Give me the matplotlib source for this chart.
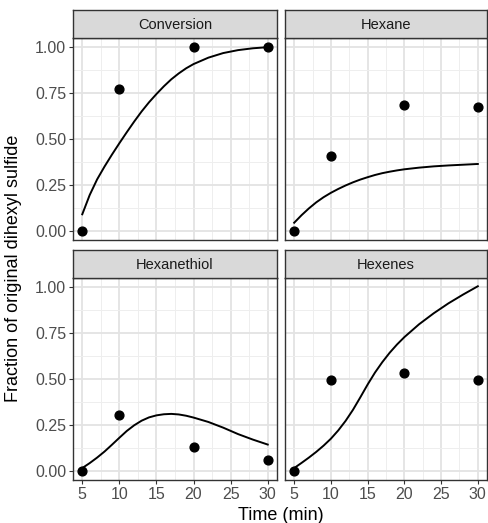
import matplotlib
matplotlib.use("Agg")
import matplotlib.pyplot as plt

plt.rcParams['font.family'] = ['Liberation Sans', 'DejaVu Sans']

# measured points
time_pts = [5, 10, 20, 30]
conversion = [0.0, 0.77, 1.0, 1.0]
hexane = [0.0, 0.41, 0.685, 0.672]
hexanethiol = [0.0, 0.302, 0.128, 0.059]
hexenes = [0.0, 0.496, 0.531, 0.496]

# fitted curves
time_fit = [5, 6, 7, 8, 9, 10, 11, 12, 13, 14, 15, 16, 17, 18, 19, 20, 22, 24, 26, 28, 30]
conversion_fit = [0.09, 0.195, 0.28, 0.35, 0.415, 0.477, 0.537, 0.595, 0.65, 0.70, 0.745,
                  0.787, 0.825, 0.857, 0.885, 0.908, 0.943, 0.968, 0.984, 0.994, 1.0]
hexane_fit = [0.044, 0.085, 0.122, 0.155, 0.183, 0.207, 0.228, 0.247, 0.264, 0.279, 0.292,
              0.304, 0.314, 0.322, 0.329, 0.335, 0.344, 0.351, 0.356, 0.36, 0.364]
hexanethiol_fit = [0.015, 0.042, 0.072, 0.105, 0.142, 0.18, 0.217, 0.248, 0.273, 0.291, 0.302,
                   0.308, 0.31, 0.307, 0.30, 0.29, 0.266, 0.235, 0.20, 0.17, 0.143]
hexenes_fit = [0.015, 0.043, 0.072, 0.103, 0.137, 0.175, 0.22, 0.272, 0.332, 0.40, 0.47,
               0.535, 0.592, 0.643, 0.688, 0.728, 0.798, 0.858, 0.912, 0.96, 1.005]

panels = [
    ("Conversion", conversion, conversion_fit),
    ("Hexane", hexane, hexane_fit),
    ("Hexanethiol", hexanethiol, hexanethiol_fit),
    ("Hexenes", hexenes, hexenes_fit),
]

W, H = 488, 523
fig = plt.figure(figsize=(W / 100, H / 100), dpi=100)

# panel boxes in pixels: left, top, right, bottom
boxes = [(73, 38, 277, 240), (285, 38, 487, 240),
         (73, 278, 277, 480), (285, 278, 487, 480)]
strip_h = 28

xticks = [5, 10, 15, 20, 25, 30]
yticks = [0.0, 0.25, 0.5, 0.75, 1.0]

for i, ((name, pts, fit), (l, t, r, b)) in enumerate(zip(panels, boxes)):
    ax = fig.add_axes([l / W, 1 - b / H, (r - l) / W, (b - t) / H])
    ax.set_xlim(3.75, 31.25)
    ax.set_ylim(-0.05, 1.05)
    ax.set_xticks(xticks)
    ax.set_yticks(yticks)
    ax.set_xticks([7.5, 12.5, 17.5, 22.5, 27.5], minor=True)
    ax.set_yticks([0.125, 0.375, 0.625, 0.875], minor=True)
    ax.grid(which='major', color='#e3e3e3', linewidth=1.3)
    ax.grid(which='minor', color='#eeeeee', linewidth=0.7)
    ax.set_axisbelow(True)
    for s in ax.spines.values():
        s.set_color('#333333')
        s.set_linewidth(1.0)
    ax.tick_params(which='minor', length=0)
    ax.tick_params(which='major', length=3, width=0.8, color='#333333',
                   labelsize=11.5, labelcolor='#4d4d4d', pad=2)
    if i % 2 == 0:
        ax.set_yticklabels(['0.00', '0.25', '0.50', '0.75', '1.00'])
    else:
        ax.tick_params(axis='y', length=0, labelleft=False)
    if i >= 2:
        ax.set_xticklabels([str(x) for x in xticks])
    else:
        ax.tick_params(axis='x', length=0, labelbottom=False)

    ax.plot(time_fit, fit, color='black', linewidth=1.4)
    ax.scatter(time_pts, pts, s=40, color='black', zorder=3)

    # facet strip
    sax = fig.add_axes([l / W, 1 - t / H, (r - l) / W, strip_h / H])
    sax.set_facecolor('#d9d9d9')
    sax.set_xticks([])
    sax.set_yticks([])
    for s in sax.spines.values():
        s.set_color('#333333')
        s.set_linewidth(1.0)
    sax.text(0.5, 0.45, name, ha='center', va='center', fontsize=10.5,
             color='#1a1a1a', transform=sax.transAxes)

fig.text(281 / W, 1 - 515 / H, "Time (min)", ha='center', va='center', fontsize=13)
fig.text(14 / W, 1 - 268 / H, "Fraction of original dihexyl sulfide",
         ha='center', va='center', rotation=90, fontsize=13)

fig.savefig("out.png", dpi=100)
